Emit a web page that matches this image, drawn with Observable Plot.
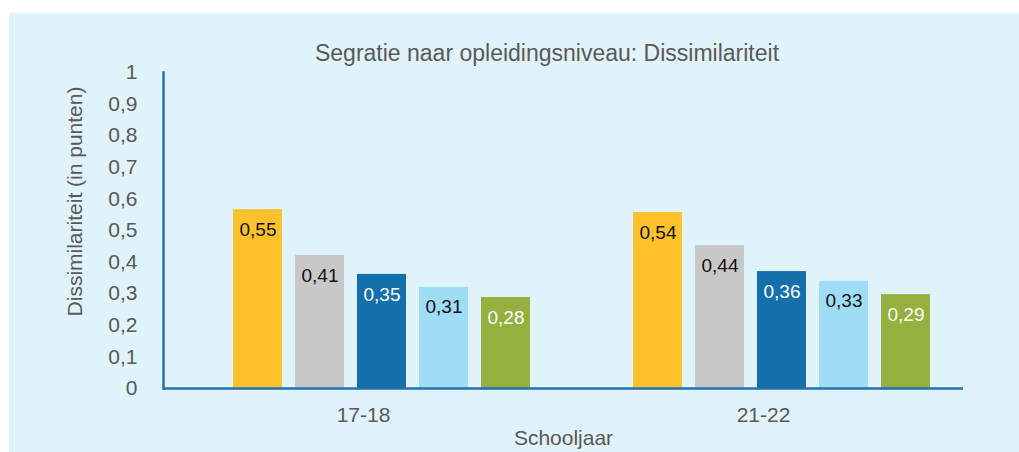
<!DOCTYPE html>
<html>
<head>
<meta charset="utf-8">
<script src="https://cdn.jsdelivr.net/npm/d3@7"></script>
<script src="https://cdn.jsdelivr.net/npm/@observablehq/plot@0.6"></script>
<style>
  html, body { margin: 0; padding: 0; background: #ffffff; }
  body { width: 1019px; height: 452px; position: relative; overflow: hidden; font-family: "Liberation Sans", Arial, sans-serif; }
  #panel { position: absolute; left: 9px; top: 13px; width: 1010px; height: 439px; background: #E0F3FA; }
  #title { position: absolute; left: 0; top: 29px; width: 1076px; text-align: center; font-size: 23px; line-height: 23px; color: #595959; white-space: nowrap; }
  #chart { position: absolute; left: 0; top: 0; }
</style>
</head>
<body>
<div id="panel">
  <div id="chart"></div>
  <div id="title">Segratie naar opleidingsniveau: Dissimilariteit</div>
</div>
<script>
// ---- data ----
const years = ["17-18", "21-22"];
const series = ["reeks 1", "reeks 2", "reeks 3", "reeks 4", "reeks 5"];
const values1718 = [0.566, 0.421, 0.361, 0.320, 0.288];
const values2122 = [0.557, 0.452, 0.370, 0.339, 0.297];
const labels1718 = ["0,55", "0,41", "0,35", "0,31", "0,28"];
const labels2122 = ["0,54", "0,44", "0,36", "0,33", "0,29"];
const yTicks = [0, 0.1, 0.2, 0.3, 0.4, 0.5, 0.6, 0.7, 0.8, 0.9, 1];
const yTickLabels = ["0", "0,1", "0,2", "0,3", "0,4", "0,5", "0,6", "0,7", "0,8", "0,9", "1"];
const yLabel = "Dissimilariteit (in punten)";
const xLabel = "Schooljaar";

// ---- styles ----
const barColors = ["#FDC12C", "#C8C8C8", "#1470AC", "#9FDCF6", "#94B13F"];
const whiteLabel = [false, false, true, false, true];
const axisColor = "#2170B0";
const textColor = "#595959";

const valuesByYear = [values1718, values2122];
const labelsByYear = [labels1718, labels2122];
const data = years.flatMap((year, j) => series.map((s, i) => ({
  year, series: s, value: valuesByYear[j][i], label: labelsByYear[j][i], white: whiteLabel[i]
})));

const chart = Plot.plot({
  width: 1010,
  height: 439,
  marginLeft: 154,
  marginRight: 56,
  marginTop: 59,
  marginBottom: 64,
  style: { background: "transparent", fontFamily: "'Liberation Sans', Arial, sans-serif", overflow: "visible" },
  fx: { domain: years, padding: 0, axis: null },
  x: { domain: series, paddingInner: 0.213, paddingOuter: 0.82, align: 0.68, axis: null },
  y: { domain: [0, 1], axis: null },
  color: { domain: series, range: barColors },
  marks: [
    Plot.barY(data, { fx: "year", x: "series", y: "value", fill: "series" }),
    Plot.text(data, { filter: d => !d.white, fx: "year", x: "series", y: "value", text: "label", dy: 20, fill: "#111111", fontSize: 19 }),
    Plot.text(data, { filter: d => d.white, fx: "year", x: "series", y: "value", text: "label", dy: 20, fill: "#ffffff", fontSize: 19 }),
    Plot.ruleY([0], { stroke: axisColor, strokeWidth: 2.5 }),
    Plot.frame({ anchor: "left", facetAnchor: "left", stroke: axisColor, strokeWidth: 2.5 }),
    Plot.axisY({ ticks: yTicks, tickFormat: d => yTickLabels[yTicks.indexOf(d)], tickSize: 0, tickPadding: 26, fontSize: 21, color: textColor, label: null }),
    Plot.axisFx({ anchor: "bottom", tickSize: 0, tickPadding: 19, fontSize: 21, color: textColor, label: xLabel, labelAnchor: "center", labelOffset: 56 }),
    Plot.text([{ year: years[0], t: yLabel }], { fx: "year", text: "t", frameAnchor: "left", textAnchor: "middle", rotate: -90, dx: -88, dy: -29, fontSize: 21, fill: textColor })
  ]
});
document.getElementById("chart").appendChild(chart);
</script>
</body>
</html>
